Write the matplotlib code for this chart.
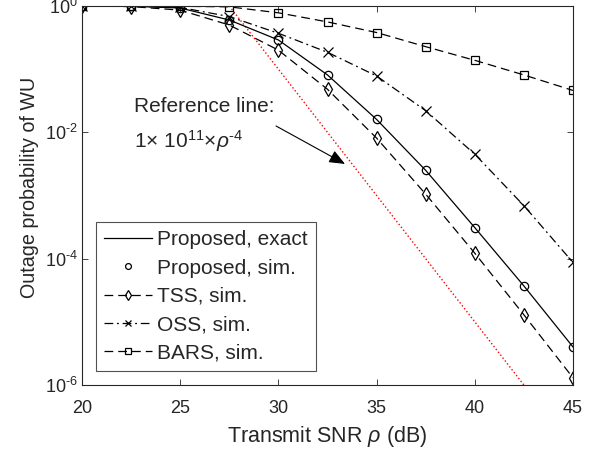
import matplotlib
matplotlib.use("Agg")
import matplotlib.pyplot as plt
from matplotlib.ticker import FixedLocator, NullLocator

plt.rcParams['font.family'] = ['Liberation Sans', 'DejaVu Sans']
plt.rcParams['mathtext.fontset'] = 'custom'
plt.rcParams['mathtext.rm'] = 'Liberation Sans'
plt.rcParams['mathtext.it'] = 'Liberation Sans:italic'
plt.rcParams['mathtext.bf'] = 'Liberation Sans:bold'

snr_db = [20, 22.5, 25, 27.5, 30, 32.5, 35, 37.5, 40, 42.5, 45]
proposed_exact = [1.0, 0.99, 0.93, 0.60, 0.29, 0.081, 0.016, 0.0025, 3.1e-4, 3.7e-5, 4.0e-6]
proposed_sim = [1.0, 0.99, 0.93, 0.60, 0.29, 0.081, 0.016, 0.0025, 3.1e-4, 3.7e-5, 4.0e-6]
tss_sim = [1.0, 0.98, 0.86, 0.50, 0.20, 0.048, 0.0081, 0.00105, 1.22e-4, 1.29e-5, 1.3e-6]
oss_sim = [1.0, 0.99, 0.95, 0.68, 0.37, 0.185, 0.078, 0.022, 0.0045, 6.9e-4, 8.7e-5]
bars_sim = [1.0, 1.0, 0.99, 0.97, 0.78, 0.56, 0.38, 0.227, 0.138, 0.081, 0.046]
ref_x = [27.5, 30, 32.5, 35, 37.5, 40, 42.5]
ref_y = [1.0, 1e-1, 1e-2, 1e-3, 1e-4, 1e-5, 1e-6]

xticks = [20, 25, 30, 35, 40, 45]
yticks = [1e-6, 1e-4, 1e-2, 1e0]
ytick_labels = [r'10$^{\text{-6}}$', r'10$^{\text{-4}}$', r'10$^{\text{-2}}$', r'10$^{\text{0}}$']

fig = plt.figure(figsize=(5.95, 4.5), dpi=100)
ax = fig.add_axes([82/595, 1-385/450, 491/595, 379/450])

txt = '#262626'
ms = 6.0
lw = 0.9
ax.plot(ref_x, ref_y, ':', color='red', lw=1.0)
ax.plot(snr_db, proposed_exact, '-', color='k', lw=lw, label='Proposed, exact')
ax.plot(snr_db, proposed_sim, 'o', color='k', mfc='none', ms=ms, mew=lw, label='Proposed, sim.')
ax.plot(snr_db, tss_sim, '--', marker='d', color='k', mfc='none', ms=ms+1.5, mew=lw, lw=lw,
        dashes=(7, 4), label='TSS, sim.')
ax.plot(snr_db, oss_sim, '-.', marker='x', color='k', ms=ms+1, mew=lw, lw=lw,
        dashes=(7, 3, 1.5, 3), label='OSS, sim.')
ax.plot(snr_db, bars_sim, '--', marker='s', color='k', mfc='none', ms=ms, mew=lw, lw=lw,
        dashes=(7, 4), label='BARS, sim.')

ax.set_yscale('log')
ax.set_xlim(20, 45)
ax.set_ylim(1e-6, 1.0)
ax.xaxis.set_major_locator(FixedLocator(xticks))
ax.yaxis.set_major_locator(FixedLocator(yticks))
ax.set_yticklabels(ytick_labels)
ax.yaxis.set_minor_locator(NullLocator())
ax.tick_params(which='both', direction='in', top=True, right=True, length=4,
               labelsize=13, colors=txt, width=0.6)
ax.tick_params(axis='x', pad=10.5)
ax.tick_params(axis='y', pad=3)
for s in ax.spines.values():
    s.set_color(txt)
    s.set_linewidth(0.8)

ax.set_xlabel(r'Transmit SNR $\it{\rho}$ (dB)', fontsize=15.5, color=txt, labelpad=5)
ax.set_ylabel('Outage probability of WU', fontsize=14.2, color=txt)
ax.yaxis.set_label_coords(-0.088, 0.522)

ax.text(0.106, 0.736, 'Reference line:', transform=ax.transAxes, fontsize=15,
        va='center', ha='left', color=txt)
ax.text(0.106, 0.644, r'1$\times$ 10$^{11}$$\times$$\it{\rho}$$^{\text{-4}}$', transform=ax.transAxes,
        fontsize=15, va='center', ha='left', color=txt)
ax.annotate('', xy=(33.39, 0.00316), xytext=(29.88, 0.0126),
            arrowprops=dict(arrowstyle='-|>,head_length=0.6,head_width=0.25', color='k',
                            lw=0.8, mutation_scale=16, shrinkA=0, shrinkB=0))

leg = ax.legend(loc='lower left', bbox_to_anchor=((96-82)/491, (385-371)/379),
                borderaxespad=0, fontsize=15, frameon=True, fancybox=False,
                edgecolor=txt, handlelength=2.3, handletextpad=0.25,
                labelspacing=0.45, borderpad=0.4, markerscale=0.7)
leg.get_frame().set_linewidth(0.8)
for t in leg.get_texts():
    t.set_color(txt)

fig.savefig('out.png', dpi=100)
